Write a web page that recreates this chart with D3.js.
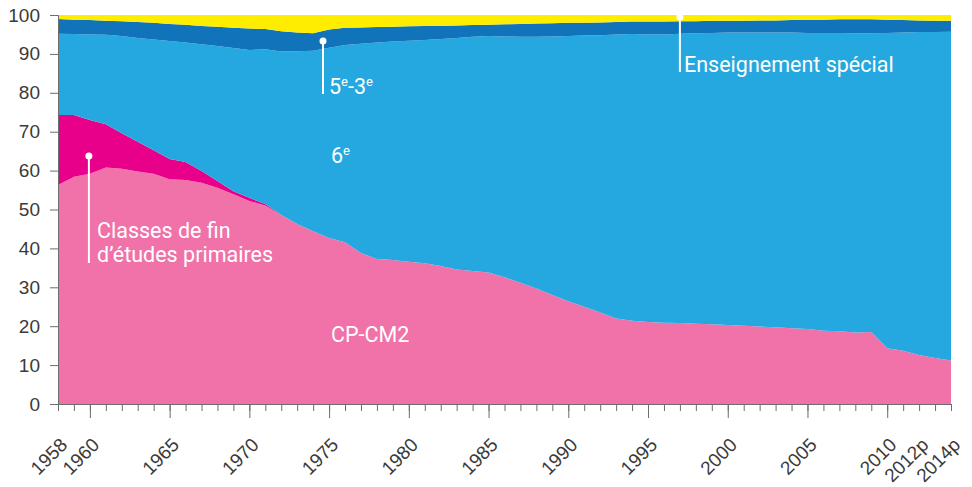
<!DOCTYPE html>
<html>
<head>
<meta charset="utf-8">
<script src="https://cdn.jsdelivr.net/npm/d3@7"></script>
<style>
  body { margin: 0; background: #fff; }
  svg { display: block; font-family: Roboto, "DejaVu Sans", sans-serif; }
  .axis text { fill: #3a3a3a; font-size: 19px; }
  .axis path, .axis line { stroke: #6d6d6d; }
  .lbl { fill: #fff; font-size: 21.5px; }
</style>
</head>
<body>
<div class="chart"></div>
<script>
// share of pupils by class level, in %
const years = d3.range(1958, 2015);
const cpcm2 = [56.3,58.4,59.2,60.8,60.5,59.8,59.2,57.8,57.6,56.9,55.6,53.9,52.2,51.0,48.6,46.3,44.4,42.7,41.6,38.8,
  37.3,37.0,36.6,36.2,35.5,34.6,34.2,33.8,32.6,31.2,29.7,28.0,26.4,25.0,23.5,22.0,21.4,21.1,20.9,20.8,
  20.6,20.5,20.3,20.1,19.9,19.7,19.5,19.3,18.8,18.7,18.4,18.5,14.3,13.7,12.6,11.8,11.2];
const finEtudes = [18.0,15.9,13.8,11.1,9.1,7.6,6.0,5.2,4.6,3.0,1.7,0.8,0.8,0.4,0,0,0,0,0,0,
  0,0,0,0,0,0,0,0,0,0,0,0,0,0,0,0,0,0,0,0,
  0,0,0,0,0,0,0,0,0,0,0,0,0,0,0,0,0];
const sixieme = [20.9,20.8,22.0,23.0,25.0,26.7,28.5,30.3,30.7,32.6,34.7,36.8,38.0,39.8,42.0,44.4,46.4,48.9,50.7,53.8,
  55.6,56.2,56.8,57.4,58.3,59.5,60.2,60.8,61.9,63.2,64.7,66.5,68.2,69.7,71.3,73.0,73.7,73.9,74.1,74.4,
  74.7,74.9,75.2,75.4,75.6,75.8,76.0,76.1,76.6,76.7,76.9,76.8,81.1,81.8,83.0,83.8,84.5];
const cinqTrois = [3.8,3.7,3.7,3.6,3.8,4.1,4.3,4.4,4.6,4.7,5.0,5.2,5.5,5.2,5.2,4.8,4.5,4.7,4.4,4.2,
  4.0,3.8,3.7,3.6,3.4,3.2,3.0,2.9,3.1,3.3,3.4,3.4,3.4,3.3,3.3,3.2,3.2,3.3,3.3,3.2,
  3.1,3.1,3.0,3.0,3.1,3.1,3.2,3.4,3.4,3.5,3.6,3.6,3.4,3.2,3.0,2.9,2.8];
const special = [1.0,1.2,1.3,1.5,1.6,1.8,2.0,2.3,2.5,2.8,3.0,3.3,3.5,3.6,4.2,4.5,4.7,3.7,3.3,3.2,
  3.1,3.0,2.9,2.8,2.8,2.7,2.6,2.5,2.4,2.3,2.2,2.1,2.0,2.0,1.9,1.8,1.7,1.7,1.7,1.6,
  1.6,1.5,1.5,1.5,1.4,1.4,1.3,1.2,1.2,1.1,1.1,1.1,1.2,1.3,1.4,1.5,1.5];
const yTicks = [0,10,20,30,40,50,60,70,80,90,100];
const xLabelYears = [1958,1960,1965,1970,1975,1980,1985,1990,1995,2000,2005,2010,2012,2014];
const xLabels = ["1958","1960","1965","1970","1975","1980","1985","1990","1995","2000","2005","2010","2012p","2014p"];

const keys = ["cpcm2","fin","sixieme","cinq","special"];
const colors = {cpcm2:"#f072a8", fin:"#e8008a", sixieme:"#25a8e0", cinq:"#1173b9", special:"#ffed00"};

const table = years.map((y,i) => ({year:y, cpcm2:cpcm2[i], fin:finEtudes[i], sixieme:sixieme[i], cinq:cinqTrois[i], special:special[i]}));

const W = 972, H = 487;
const svg = d3.select(".chart").append("svg").attr("width", W).attr("height", H);

const x = d3.scaleLinear().domain([1958, 2014]).range([58, 951]);
const y = d3.scaleLinear().domain([0, 100]).range([404, 15]);

const series = d3.stack().keys(keys)(table);
const area = d3.area()
    .x(d => x(d.data.year))
    .y0(d => y(d[0]))
    .y1(d => y(d[1]));

svg.append("g").selectAll("path")
    .data(series)
  .enter().append("path")
    .attr("d", area)
    .attr("fill", d => colors[d.key]);

// y axis
const yAxis = svg.append("g").attr("class","axis")
    .attr("transform","translate(58,0)")
    .call(d3.axisLeft(y).tickValues(yTicks).tickSize(8).tickPadding(10));
yAxis.select(".domain").attr("stroke","#9a9a9a");

// x axis: minor ticks every year, major every 5
svg.append("g").attr("class","axis")
    .attr("transform","translate(0,404)")
    .call(d3.axisBottom(x).tickValues(years).tickSize(7).tickFormat(""))
    .select(".domain").attr("stroke","#6d6d6d");
svg.append("g").attr("class","axis")
    .attr("transform","translate(0,404)")
    .call(d3.axisBottom(x).tickValues(years.filter(v => v % 5 === 0)).tickSize(14).tickFormat(""))
    .select(".domain").remove();
const xl = svg.append("g").attr("class","axis")
    .attr("transform","translate(0,404)")
    .call(d3.axisBottom(x).tickValues(xLabelYears).tickSize(0).tickFormat((d,i) => xLabels[i]));
xl.select(".domain").remove();
xl.selectAll("text")
    .attr("x",0).attr("y",0).attr("dy",0)
    .style("text-anchor","end")
    .attr("transform","translate(10,42) rotate(-45)");

// annotations
const ann = svg.append("g");
function pointer(px, py, y2) {
  ann.append("line").attr("x1",px).attr("x2",px).attr("y1",py).attr("y2",y2)
     .attr("stroke","#fff").attr("stroke-width",2);
  ann.append("circle").attr("cx",px).attr("cy",py).attr("r",3.5).attr("fill","#fff");
}
pointer(323, 41, 94);
pointer(x(1960) - 1, 156, 263);
pointer(x(1997), 17, 72);

const t53 = ann.append("text").attr("class","lbl").attr("x",329).attr("y",94);
t53.append("tspan").text("5");
t53.append("tspan").attr("dy",-8).attr("font-size",13).text("e");
t53.append("tspan").attr("dy",8).text("-3");
t53.append("tspan").attr("dy",-8).attr("font-size",13).text("e");

const t6 = ann.append("text").attr("class","lbl").attr("x",331).attr("y",163);
t6.append("tspan").text("6");
t6.append("tspan").attr("dy",-8).attr("font-size",13).text("e");

ann.append("text").attr("class","lbl").attr("x",97).attr("y",238).text("Classes de fin");
ann.append("text").attr("class","lbl").attr("x",97).attr("y",262).text("d\u2019\u00e9tudes primaires");
ann.append("text").attr("class","lbl").attr("x",331).attr("y",342).text("CP-CM2");
ann.append("text").attr("class","lbl").attr("x",684).attr("y",72).text("Enseignement sp\u00e9cial");
</script>
</body>
</html>
